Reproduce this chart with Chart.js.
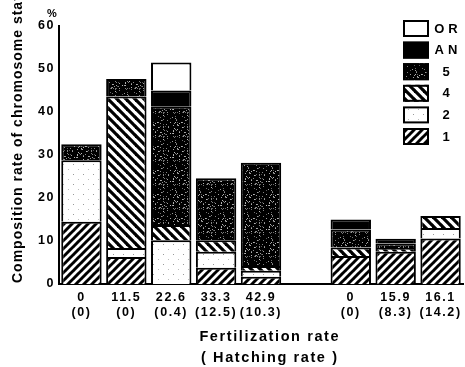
<!DOCTYPE html>
<html><head><meta charset="utf-8">
<script src="https://cdn.jsdelivr.net/npm/chart.js@4.4.1/dist/chart.umd.min.js"></script>
<style>html,body{margin:0;padding:0;background:#fff;}canvas{display:block;}</style>
</head><body>
<canvas id="c" width="465" height="367"></canvas>
<script>
// ---- data ----
const fertilizationRates = ['0','11.5','22.6','33.3','42.9','','0','15.9','16.1'];
const hatchingRates      = ['(0)','(0)','(0.4)','(12.5)','(10.3)','','(0)','(8.3)','(14.2)'];
const state1  = [14.5, 6.3, null, 3.8, 1.7, null, 6.5, 7.5, 10.6];
const state2  = [14.3, 2.1, 10.2, 3.7, 1.4, null, null, null, 2.4];
const state4  = [null, 35.2, 3.5, 2.7, 1.1, null, 2.0, 0.9, 2.8];
const state5  = [3.7, 4.1, 27.5, 14.4, 24.0, null, 4.2, 1.0, null];
const stateAN = [null, null, 3.8, null, null, null, 2.3, 1.1, null];
const stateOR = [null, null, 6.5, null, null, null, null, null, null];
const yTickValues = [0, 10, 20, 30, 40, 50, 60];
const legendNames = ['1', '2', '4', '5', 'AN', 'OR'];
const xTitleLines = ['Fertilization rate', '( Hatching rate )'];
const yTitle = 'Composition rate of chromosome states';

const FONT = '"Liberation Sans", Arial, Helvetica, sans-serif';
const canvas = document.getElementById('c');
const mainCtx = canvas.getContext('2d');

function makeTile(w, h, draw) {
  const c = document.createElement('canvas'); c.width = w; c.height = h;
  const g = c.getContext('2d'); draw(g, w, h);
  return mainCtx.createPattern(c, 'repeat');
}
function hatch(dir, s, lw) {
  return makeTile(s, s, (g) => {
    g.fillStyle = '#fff'; g.fillRect(0, 0, s, s);
    g.strokeStyle = '#000'; g.lineWidth = lw;
    for (const o of [-s, 0, s]) {
      g.beginPath();
      if (dir > 0) { g.moveTo(o - 1, s + 1); g.lineTo(o + s + 1, -1); }
      else { g.moveTo(o - 1, -1); g.lineTo(o + s + 1, s + 1); }
      g.stroke();
    }
  });
}
let seed = 12345;
function rnd() { seed = (seed * 1103515245 + 12345) & 0x7fffffff; return seed / 0x7fffffff; }
const pat1 = hatch(1, 8, 3);
const pat4 = hatch(-1, 9, 3.2);
const pat5 = makeTile(24, 24, (g, w, h) => {
  g.fillStyle = '#000'; g.fillRect(0, 0, w, h);
  for (let i = 0; i < 80; i++) {
    const x = Math.floor(rnd() * w), y = Math.floor(rnd() * h);
    const v = 80 + Math.floor(rnd() * 110);
    g.fillStyle = `rgb(${v},${v},${v})`; g.fillRect(x, y, 1, 1);
  }
});
const pat2 = makeTile(10, 10, (g) => {
  g.fillStyle = '#fff'; g.fillRect(0, 0, 10, 10);
  g.fillStyle = '#999'; g.fillRect(3, 4, 1, 1);
  g.fillStyle = '#bbb'; g.fillRect(8, 9, 1, 1);
});
const fills = [pat1, pat2, pat4, pat5, '#000', '#fff'];
const series = [state1, state2, state4, state5, stateAN, stateOR];

const labels = fertilizationRates.map((f, i) => f ? [f, hatchingRates[i]] : '');

const decor = {
  id: 'decor',
  beforeDraw(chart) { chart.ctx.letterSpacing = '1.6px'; },
  afterDraw(chart) {
    const ctx = chart.ctx;
    ctx.save();
    ctx.fillStyle = '#000';
    // y-axis title (runs off the top edge, as in the original)
    ctx.save();
    ctx.translate(18, 283);
    ctx.rotate(-Math.PI / 2);
    ctx.font = 'bold 14px ' + FONT;
    ctx.letterSpacing = '1px';
    ctx.textAlign = 'left'; ctx.textBaseline = 'middle';
    ctx.fillText(yTitle, 0, 0);
    ctx.restore();
    // x-axis title
    ctx.font = 'bold 14.5px ' + FONT;
    ctx.letterSpacing = '1.6px';
    ctx.textAlign = 'left'; ctx.textBaseline = 'middle';
    xTitleLines.forEach((t, i) => {
      const w = ctx.measureText(t).width - 1.6;
      ctx.fillText(t, 269 - w / 2, 337 + i * 21);
    });
    // percent sign
    ctx.font = 'bold 11px ' + FONT;
    ctx.letterSpacing = '0px';
    ctx.textAlign = 'center';
    ctx.fillText('%', 52, 14);
    // legend
    const ds = chart.data.datasets;
    ctx.font = 'bold 13px ' + FONT;
    ctx.letterSpacing = '4px';
    ctx.textAlign = 'left';
    for (let k = 0; k < ds.length; k++) {
      const d = ds[ds.length - 1 - k];
      const y = 20 + k * 21.6;
      ctx.fillStyle = d.backgroundColor;
      ctx.fillRect(403, y, 26, 17);
      ctx.strokeStyle = '#000'; ctx.lineWidth = 2;
      ctx.strokeRect(404, y + 1, 24, 15);
      ctx.fillStyle = '#000';
      const w = ctx.measureText(d.label).width - 4;
      ctx.fillText(d.label, 446 - w / 2, y + 9);
    }
    ctx.restore();
  }
};

new Chart(canvas, {
  type: 'bar',
  data: {
    labels: labels,
    datasets: series.map((s, i) => ({ label: legendNames[i], data: s, backgroundColor: fills[i] }))
  },
  options: {
    responsive: false, animation: false, devicePixelRatio: 1,
    layout: { padding: { left: 0, right: 2, top: 26, bottom: 0 } },
    plugins: { legend: { display: false }, tooltip: { enabled: false } },
    datasets: { bar: { barPercentage: 0.9, categoryPercentage: 1, borderColor: '#000', borderWidth: 2 } },
    scales: {
      x: {
        stacked: true,
        grid: { display: false, drawTicks: false },
        border: { display: true, color: '#000', width: 2 },
        ticks: { color: '#000', font: { family: FONT, size: 12.5, weight: 'bold', lineHeight: '15px' }, padding: 6.5, maxRotation: 0, autoSkip: false },
        afterFit(s) { s.height = 83; }
      },
      y: {
        stacked: true, min: 0, max: 60,
        grid: { display: false, drawTicks: false },
        border: { display: true, color: '#000', width: 2 },
        ticks: { color: '#000', font: { family: FONT, size: 12.5, weight: 'bold' }, padding: 4 },
        afterBuildTicks(s) { s.ticks = yTickValues.map(v => ({ value: v })); },
        afterFit(s) { s.width = 59; }
      }
    }
  },
  plugins: [decor]
});
</script>
</body></html>
